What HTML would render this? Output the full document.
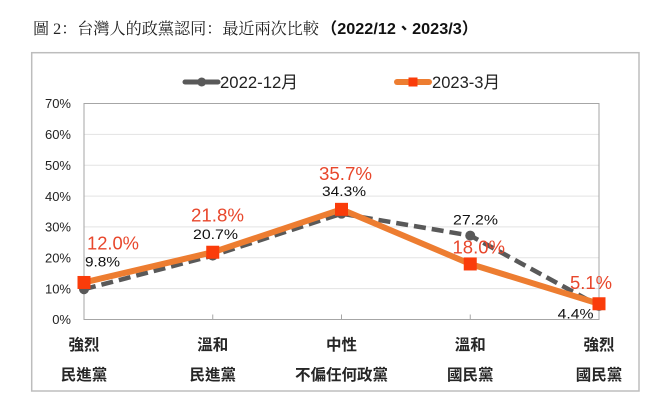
<!DOCTYPE html>
<html>
<head>
<meta charset="utf-8">
<style>
  html,body{margin:0;padding:0;background:#fff;}
  svg{display:block;}
</style>
</head>
<body>
<svg width="656" height="406" viewBox="0 0 656 406" xmlns="http://www.w3.org/2000/svg">
  <rect x="0" y="0" width="656" height="406" fill="#fff"/>
  <!-- Title -->
  <text x="33" y="34" font-family="'Liberation Serif','Noto Serif CJK SC',serif" font-size="16" fill="#222" textLength="286" lengthAdjust="spacingAndGlyphs">圖 2：台灣人的政黨認同：最近兩次比較</text>
  <text x="321" y="34" font-family="'Liberation Sans','Noto Sans CJK TC',sans-serif" font-size="16" font-weight="bold" fill="#111" textLength="157" lengthAdjust="spacingAndGlyphs">（2022/12、2023/3）</text>

  <!-- Outer box -->
  <rect x="31.7" y="52.7" width="607.3" height="338.3" fill="#fff" stroke="#bdbdbd" stroke-width="1.5"/>

  <!-- Legend -->
  <line x1="185" y1="82" x2="218" y2="82" stroke="#595959" stroke-width="5" stroke-linecap="round"/>
  <circle cx="201.7" cy="82" r="4.5" fill="#595959"/>
  <text x="220" y="88" font-family="'Liberation Sans','Noto Sans CJK TC',sans-serif" font-size="17" fill="#222" textLength="78" lengthAdjust="spacingAndGlyphs">2022-12月</text>
  <line x1="397" y1="82" x2="429" y2="82" stroke="#ed7d31" stroke-width="6" stroke-linecap="round"/>
  <rect x="408.5" y="77.5" width="9" height="9" fill="#fa3c0a"/>
  <text x="432" y="88" font-family="'Liberation Sans','Noto Sans CJK TC',sans-serif" font-size="17" fill="#222" textLength="68" lengthAdjust="spacingAndGlyphs">2023-3月</text>

  <!-- Gridlines -->
  <g stroke="#e3e3e3" stroke-width="1">
    <line x1="84" y1="288.64" x2="599" y2="288.64"/>
    <line x1="84" y1="257.79" x2="599" y2="257.79"/>
    <line x1="84" y1="226.93" x2="599" y2="226.93"/>
    <line x1="84" y1="196.07" x2="599" y2="196.07"/>
    <line x1="84" y1="165.21" x2="599" y2="165.21"/>
    <line x1="84" y1="134.36" x2="599" y2="134.36"/>
  </g>
  <!-- Plot border -->
  <rect x="84" y="103.5" width="515" height="216" fill="none" stroke="#a6a6a6" stroke-width="1"/>
  <!-- ticks -->
  <g stroke="#a6a6a6" stroke-width="1">
    <line x1="212.75" y1="314.5" x2="212.75" y2="319.5"/>
    <line x1="341.5" y1="314.5" x2="341.5" y2="319.5"/>
    <line x1="470.25" y1="314.5" x2="470.25" y2="319.5"/>
  </g>

  <!-- Y labels -->
  <g font-family="'Liberation Sans',sans-serif" font-size="13" fill="#222" text-anchor="end">
    <text x="71" y="324.2">0%</text>
    <text x="71" y="293.3">10%</text>
    <text x="71" y="262.5">20%</text>
    <text x="71" y="231.6">30%</text>
    <text x="71" y="200.8">40%</text>
    <text x="71" y="169.9">50%</text>
    <text x="71" y="139.1">60%</text>
    <text x="71" y="108.2">70%</text>
  </g>

  <!-- Gray dashed series -->
  <polyline points="84,289.26 212.75,255.63 341.5,213.66 470.25,235.57 599,305.92" fill="none" stroke="#595959" stroke-width="4.5" stroke-dasharray="12,6" stroke-linejoin="round"/>
  <g fill="#595959">
    <circle cx="84" cy="289.26" r="5"/>
    <circle cx="212.75" cy="255.63" r="5"/>
    <circle cx="341.5" cy="213.66" r="5"/>
    <circle cx="470.25" cy="235.57" r="5"/>
    <circle cx="599" cy="305.92" r="5"/>
  </g>

  <!-- Orange series -->
  <polyline points="84,282.47 212.75,252.23 341.5,209.34 470.25,263.96 599,303.76" fill="none" stroke="#ed7d31" stroke-width="6" stroke-linejoin="round"/>
  <g fill="#fa3c0a">
    <rect x="77.5" y="275.97" width="13" height="13"/>
    <rect x="206.25" y="245.73" width="13" height="13"/>
    <rect x="335" y="202.84" width="13" height="13"/>
    <rect x="463.75" y="257.46" width="13" height="13"/>
    <rect x="592.5" y="297.26" width="13" height="13"/>
  </g>

  <!-- Data labels -->
  <g font-family="'Liberation Sans',sans-serif" font-size="18" fill="#e8472c">
    <text x="87" y="249.5" textLength="52" lengthAdjust="spacingAndGlyphs">12.0%</text>
    <text x="191" y="221.5" textLength="53" lengthAdjust="spacingAndGlyphs">21.8%</text>
    <text x="319" y="180" textLength="53" lengthAdjust="spacingAndGlyphs">35.7%</text>
    <text x="452.5" y="253.5" textLength="52.5" lengthAdjust="spacingAndGlyphs">18.0%</text>
    <text x="570" y="289" textLength="42" lengthAdjust="spacingAndGlyphs">5.1%</text>
  </g>
  <g font-family="'Liberation Sans',sans-serif" font-size="13.5" fill="#111">
    <text x="85" y="266.7" textLength="35" lengthAdjust="spacingAndGlyphs">9.8%</text>
    <text x="193" y="238.8" textLength="45" lengthAdjust="spacingAndGlyphs">20.7%</text>
    <text x="322" y="195.8" textLength="44" lengthAdjust="spacingAndGlyphs">34.3%</text>
    <text x="453" y="224.3" textLength="45" lengthAdjust="spacingAndGlyphs">27.2%</text>
    <text x="557.6" y="318.3" textLength="36" lengthAdjust="spacingAndGlyphs">4.4%</text>
  </g>

  <!-- X labels -->
  <g font-family="'Liberation Sans','Noto Sans CJK TC',sans-serif" font-size="15.5" font-weight="bold" fill="#262626" text-anchor="middle">
    <text x="84" y="349.9">強烈</text>
    <text x="84" y="379.9">民進黨</text>
    <text x="212.75" y="349.9">溫和</text>
    <text x="212.75" y="379.9">民進黨</text>
    <text x="341.5" y="349.9">中性</text>
    <text x="341.5" y="379.9">不偏任何政黨</text>
    <text x="470.25" y="349.9">溫和</text>
    <text x="470.25" y="379.9">國民黨</text>
    <text x="599" y="349.9">強烈</text>
    <text x="599" y="379.9">國民黨</text>
  </g>
</svg>
</body>
</html>
